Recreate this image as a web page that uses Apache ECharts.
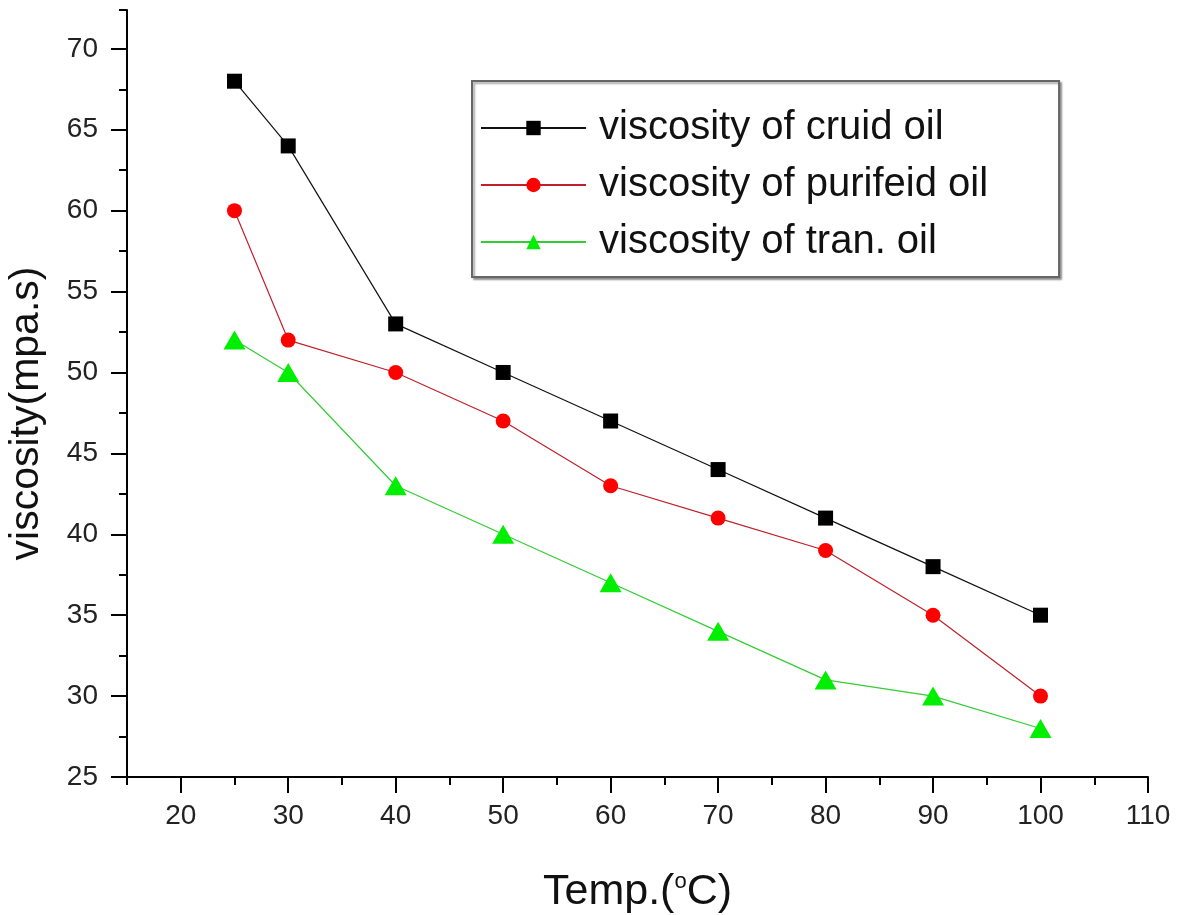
<!DOCTYPE html>
<html>
<head>
<meta charset="utf-8">
<title>viscosity</title>
<script src="https://cdn.jsdelivr.net/npm/echarts@6/dist/echarts.min.js"></script>
<style>
  html, body { margin: 0; padding: 0; background: #fff; }
  #chart { width: 1179px; height: 915px; }
</style>
</head>
<body>
<div id="chart"></div>
<script>
// temperatures (°C)
const temps = [25, 30, 40, 50, 60, 70, 80, 90, 100]
// viscosity values (mpa.s)
const cruidOil = [68, 64, 53, 50, 47, 44, 41, 38, 35]
const purifeidOil = [60, 52, 50, 47, 43, 41, 39, 35, 30]
const tranOil = [52, 50, 43, 40, 37, 34, 31, 30, 28]
const seriesNames = ['viscosity of cruid oil', 'viscosity of purifeid oil', 'viscosity of tran. oil']

// tick labels
const xLabels = [20, 30, 40, 50, 60, 70, 80, 90, 100, 110]
const xMinor = [15, 25, 35, 45, 55, 65, 75, 85, 95, 105]
const yLabels = [25, 30, 35, 40, 45, 50, 55, 60, 65, 70]
const yMinor = [27.5, 32.5, 37.5, 42.5, 47.5, 52.5, 57.5, 62.5, 67.5, 72.4]

const font = 'Liberation Sans, Arial, sans-serif'
const pair = (ys) => temps.map((t, i) => [t, ys[i]])

const chart = echarts.init(document.getElementById('chart'))

const gridBox = { left: 127, right: 31, top: 10, bottom: 138, outerBoundsMode: 'none', containLabel: false }

let option = {
  backgroundColor: '#fff',
  animation: false,
  textStyle: { fontFamily: font },
  grid: [
    Object.assign({}, gridBox),
    Object.assign({}, gridBox),
  ],
  legend: {
    orient: 'vertical',
    left: 472,
    top: 81,
    data: seriesNames,
    itemWidth: 105,
    itemHeight: 18,
    itemGap: 17,
    padding: [27, 71, 15, 8],
    backgroundColor: '#fff',
    borderColor: '#666',
    borderWidth: 2,
    shadowColor: 'rgba(0,0,0,0.35)',
    shadowOffsetX: 2,
    shadowOffsetY: 2,
    shadowBlur: 2,
    textStyle: {
      fontFamily: font,
      fontSize: 40,
      color: '#111',
      padding: [0, 0, 0, 8],
    },
  },
  xAxis: [
    {
      type: 'value',
      gridIndex: 0,
      min: 15,
      max: 110,
      name: 'Temp.({sup|o}C)',
      nameLocation: 'middle',
      nameGap: 94,
      nameTextStyle: {
        fontFamily: font,
        fontSize: 43,
        color: '#111',
        rich: {
          sup: { fontSize: 22, verticalAlign: 'top', padding: [0, 0, 20, 0], color: '#111', fontFamily: font },
        },
      },
      axisLine: { show: true, lineStyle: { color: '#000', width: 2 } },
      axisTick: { show: true, customValues: xLabels, length: 16, lineStyle: { color: '#000', width: 2 } },
      axisLabel: { customValues: xLabels, fontSize: 28, color: '#222', margin: 25, fontFamily: font },
      splitLine: { show: false },
    },
    {
      type: 'value',
      gridIndex: 1,
      min: 15,
      max: 110,
      axisLine: { show: false },
      axisTick: { show: true, customValues: xMinor, length: 8, lineStyle: { color: '#000', width: 2 } },
      axisLabel: { show: false },
      splitLine: { show: false },
    },
  ],
  yAxis: [
    {
      type: 'value',
      gridIndex: 0,
      min: 25,
      max: 72.4,
      name: 'viscosity(mpa.s)',
      nameLocation: 'middle',
      nameGap: 80,
      nameTextStyle: {
        fontFamily: font,
        fontSize: 41,
        color: '#111',
        padding: [0, 40, 0, 0],
      },
      axisLine: { show: true, lineStyle: { color: '#000', width: 2 } },
      axisTick: { show: true, customValues: yLabels, length: 16, lineStyle: { color: '#000', width: 2 } },
      axisLabel: { customValues: yLabels, fontSize: 28, color: '#222', margin: 29, fontFamily: font },
      splitLine: { show: false },
    },
    {
      type: 'value',
      gridIndex: 1,
      min: 25,
      max: 72.4,
      axisLine: { show: false },
      axisTick: { show: true, customValues: yMinor, length: 8, lineStyle: { color: '#000', width: 2 } },
      axisLabel: { show: false },
      splitLine: { show: false },
    },
  ],
  series: [
    {
      name: seriesNames[0],
      type: 'line',
      data: pair(cruidOil),
      symbol: 'rect',
      symbolSize: 15,
      itemStyle: { color: '#000' },
      lineStyle: { color: '#111', width: 1.2 },
    },
    {
      name: seriesNames[1],
      type: 'line',
      data: pair(purifeidOil),
      symbol: 'circle',
      symbolSize: 15,
      itemStyle: { color: '#ff0000' },
      lineStyle: { color: '#c0202a', width: 1.2 },
    },
    {
      name: seriesNames[2],
      type: 'line',
      data: pair(tranOil),
      symbol: 'triangle',
      symbolSize: [22, 19],
      itemStyle: { color: '#00ee00' },
      lineStyle: { color: '#33cc33', width: 1.2 },
    },
  ],
}

chart.setOption(option)
</script>
</body>
</html>
